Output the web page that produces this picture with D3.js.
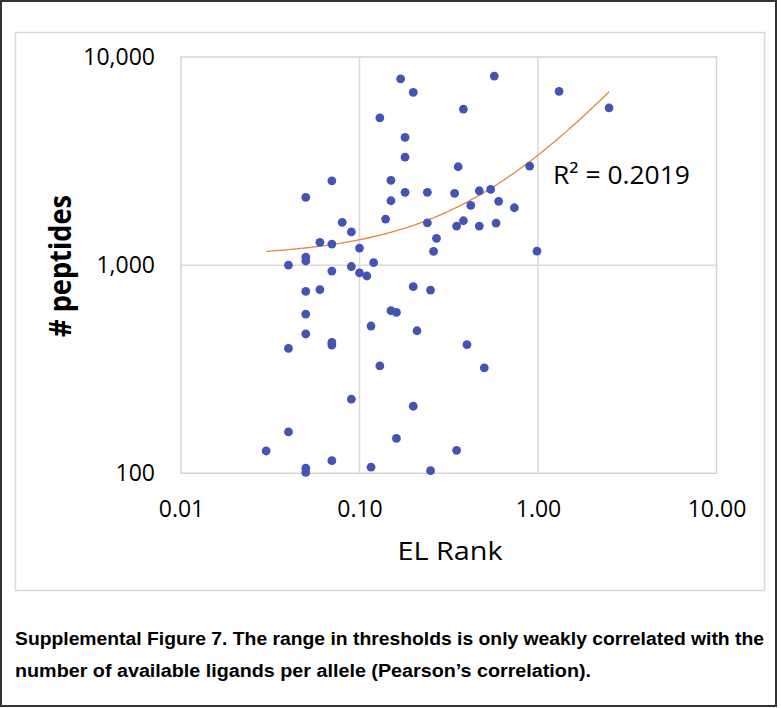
<!DOCTYPE html>
<html lang="en">
<head>
<meta charset="UTF-8">
<title>EL Rank vs peptides</title>
<script src="https://cdn.jsdelivr.net/npm/d3@7"></script>
<style>
  html, body { margin: 0; padding: 0; background: #fff; }
  svg { display: block; }
</style>
</head>
<body>
<div id="chart"></div>
<script>
// EL Rank (x) and # peptides (y)
const elRank = [
  0.030, 0.040, 0.040, 0.040, 0.050, 0.050, 0.050, 0.050, 0.050, 0.050, 0.050, 0.050,
  0.060, 0.060, 0.070, 0.070, 0.070, 0.070, 0.070, 0.070, 0.080, 0.090, 0.090, 0.090,
  0.100, 0.100, 0.110, 0.120, 0.116, 0.116, 0.130, 0.130, 0.140, 0.150, 0.150, 0.150,
  0.161, 0.161, 0.170, 0.180, 0.180, 0.180, 0.200, 0.200, 0.200, 0.210, 0.240, 0.240,
  0.250, 0.250, 0.260, 0.270, 0.341, 0.350, 0.350, 0.357, 0.382, 0.382, 0.400, 0.420,
  0.469, 0.469, 0.500, 0.543, 0.569, 0.582, 0.602, 0.737, 0.898, 0.987, 1.312, 2.500
];
const peptides = [
  128, 158, 398, 1001, 2117, 1094, 1047, 748, 582, 467, 106, 101,
  1287, 762, 2543, 1262, 937, 426, 413, 115, 1606, 1446, 985, 227,
  1208, 919, 887, 1029, 510, 107, 5105, 328, 1665, 2555, 2039, 604,
  593, 147, 7857, 4111, 3304, 2238, 6761, 788, 210, 484, 2238, 1598,
  759, 103, 1165, 1345, 2213, 1541, 129, 2970, 5620, 1634, 415, 1937,
  2277, 1541, 321, 2312, 8097, 1593, 2025, 1887, 2992, 1169, 6837, 5701
];

const xTicks = [0.01, 0.1, 1, 10];
const yTicks = [100, 1000, 10000];

// linear trendline (y = a + b*x), as shown in the figure
const trendIntercept = 1096;
const trendSlope = 2283;
const trendLabel = "R² = 0.2019";

const captionLines = [
  "Supplemental Figure 7. The range in thresholds is only weakly correlated with the",
  "number of available ligands per allele (Pearson’s correlation)."
];

const width = 781;
const height = 708;
const plotLeft = 181, plotRight = 716.5, plotTop = 57, plotBottom = 473.3;

const svg = d3.select("#chart").append("svg")
    .attr("width", width)
    .attr("height", height);

// outer figure frame
svg.append("rect")
    .attr("x", 1).attr("y", 1)
    .attr("width", 775).attr("height", 705)
    .attr("fill", "#fff")
    .attr("stroke", "#333")
    .attr("stroke-width", 2);

// chart area border
svg.append("rect")
    .attr("x", 15.5).attr("y", 32.5)
    .attr("width", 749).attr("height", 558)
    .attr("fill", "none")
    .attr("stroke", "#d9d9d9")
    .attr("stroke-width", 1.5);

const x = d3.scaleLog()
    .domain([0.01, 10])
    .range([plotLeft, plotRight]);

const y = d3.scaleLog()
    .domain([100, 10000])
    .range([plotBottom, plotTop]);

// gridlines
svg.append("g")
    .attr("stroke", "#d9d9d9")
    .attr("stroke-width", 1.5)
    .selectAll("line")
    .data(xTicks.slice(1, -1))
    .join("line")
    .attr("x1", d => x(d)).attr("x2", d => x(d))
    .attr("y1", plotTop).attr("y2", plotBottom);

svg.append("g")
    .attr("stroke", "#d9d9d9")
    .attr("stroke-width", 1.5)
    .selectAll("line")
    .data(yTicks.slice(1, -1))
    .join("line")
    .attr("x1", plotLeft).attr("x2", plotRight)
    .attr("y1", d => y(d)).attr("y2", d => y(d));

// plot area border
svg.append("rect")
    .attr("x", plotLeft).attr("y", plotTop)
    .attr("width", plotRight - plotLeft)
    .attr("height", plotBottom - plotTop)
    .attr("fill", "none")
    .attr("stroke", "#d4d4d4")
    .attr("stroke-width", 1.5);

// axes
svg.append("g")
    .attr("transform", `translate(0,${plotBottom})`)
    .call(d3.axisBottom(x).tickValues(xTicks).tickFormat(d3.format(".2f")).tickSize(0).tickPadding(27))
    .call(g => g.select(".domain").remove())
    .call(g => g.selectAll("text")
        .attr("fill", "#000")
        .attr("font-family", "'Open Sans', sans-serif")
        .attr("font-size", 23));

svg.append("g")
    .attr("transform", `translate(${plotLeft},0)`)
    .call(d3.axisLeft(y).tickValues(yTicks).tickFormat(d3.format(",")).tickSize(0).tickPadding(26))
    .call(g => g.select(".domain").remove())
    .call(g => g.selectAll("text")
        .attr("fill", "#000")
        .attr("font-family", "'Open Sans', sans-serif")
        .attr("font-size", 23));

// axis titles
svg.append("text")
    .attr("x", 450)
    .attr("y", 560)
    .attr("text-anchor", "middle")
    .attr("font-family", "'Open Sans', sans-serif")
    .attr("font-size", 26)
    .attr("textLength", 105)
    .attr("lengthAdjust", "spacingAndGlyphs")
    .text("EL Rank");

svg.append("text")
    .attr("transform", "translate(71,266) rotate(-90)")
    .attr("text-anchor", "middle")
    .attr("font-family", "'Open Sans', sans-serif")
    .attr("font-weight", 700)
    .attr("font-size", 30)
    .attr("textLength", 142)
    .attr("lengthAdjust", "spacingAndGlyphs")
    .text("# peptides");

// trendline over the data range
const [xMin, xMax] = d3.extent(elRank);
const trendX = d3.range(0, 101).map(i => xMin * Math.pow(xMax / xMin, i / 100));
const line = d3.line()
    .x(d => x(d))
    .y(d => y(trendIntercept + trendSlope * d));

svg.append("path")
    .datum(trendX)
    .attr("d", line)
    .attr("fill", "none")
    .attr("stroke", "#e0883a")
    .attr("stroke-width", 1.3);

// points
svg.append("g")
    .attr("fill", "#4454b4")
    .selectAll("circle")
    .data(elRank.map((d, i) => [d, peptides[i]]))
    .join("circle")
    .attr("cx", d => x(d[0]))
    .attr("cy", d => y(d[1]))
    .attr("r", 4.4);

svg.append("text")
    .attr("x", 553)
    .attr("y", 184)
    .attr("font-family", "'Open Sans', sans-serif")
    .attr("font-size", 26)
    .attr("textLength", 137)
    .attr("lengthAdjust", "spacingAndGlyphs")
    .text(trendLabel);

// caption
svg.append("g")
    .selectAll("text")
    .data(captionLines)
    .join("text")
    .attr("x", 15)
    .attr("y", (d, i) => 645 + i * 32)
    .attr("font-family", "'Liberation Sans', Arial, sans-serif")
    .attr("font-weight", "bold")
    .attr("font-size", 18)
    .attr("textLength", (d, i) => i === 0 ? 749 : 576)
    .attr("lengthAdjust", "spacingAndGlyphs")
    .text(d => d);
</script>
</body>
</html>
